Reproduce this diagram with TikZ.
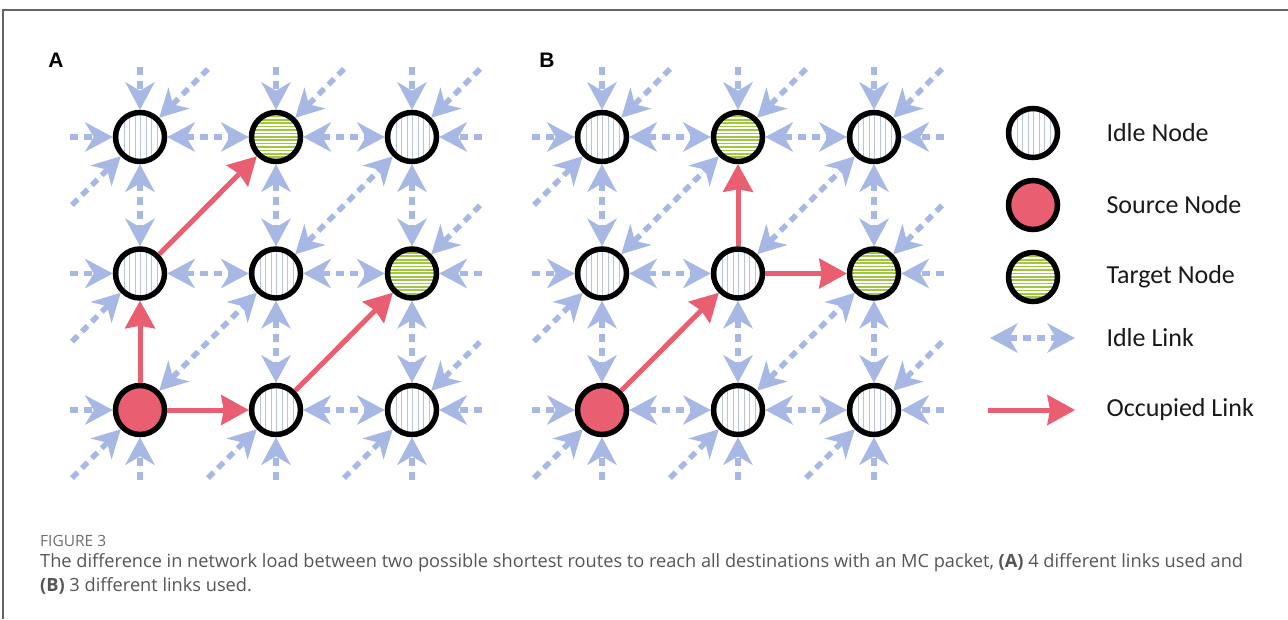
\documentclass[tikz,border=0pt]{standalone}
\usepackage{fontspec}
\setmainfont{Carlito}
\newfontfamily\capfont{Open Sans}
\newfontfamily\lblfont{Liberation Sans}
\usetikzlibrary{arrows.meta}
\definecolor{idleblue}{RGB}{168,184,228}
\definecolor{occred}{RGB}{233,94,112}
\definecolor{stripeblue}{RGB}{186,196,222}
\definecolor{stripegreen}{RGB}{160,200,60}
\definecolor{framegray}{RGB}{100,100,100}
\definecolor{capgray}{RGB}{85,85,85}
\tikzset{
  ib/.tip={Stealth[length=28pt,width=30pt,inset=9pt,line width=0pt]},
  rb/.tip={Stealth[length=28pt,width=31pt,inset=3pt,line width=0pt]},
  nd/.style={circle, draw=black, line width=5.5pt, minimum size=49pt, inner sep=0pt},
  idlenode/.style={nd, fill=white, path picture={
      \foreach \k in {-27,-21.5,...,27}
        \draw[stripeblue, line width=0.8pt] ([xshift=\k pt]path picture bounding box.north) -- ([xshift=\k pt]path picture bounding box.south);}},
  targetnode/.style={nd, fill=white, path picture={
      \foreach \k in {-27,-23.6,...,27}
        \draw[stripegreen, line width=1.7pt] ([yshift=\k pt]path picture bounding box.west) -- ([yshift=\k pt]path picture bounding box.east);}},
  sourcenode/.style={nd, fill=occred},
  idle/.style={draw=idleblue, fill=idleblue, line width=5.5pt, dash pattern=on 8pt off 6pt, arrows={ib-ib}},
  idlestub/.style={draw=idleblue, fill=idleblue, line width=5.5pt, dash pattern=on 8pt off 6pt, arrows={-ib}},
  occ/.style={draw=occred, fill=occred, line width=5pt, arrows={-rb}},
  legtext/.style={anchor=west, font=\fontsize{26}{30}\selectfont, text=black!90},
  panellbl/.style={anchor=center, font=\lblfont\bfseries\fontsize{21}{24}\selectfont},
}
\begin{document}
\begin{tikzpicture}[x=1pt,y=-1pt]
\useasboundingbox (0,0) rectangle (1288,619);
% frame
\draw[framegray, line width=1.5pt] (1288,10) coordinate (fr1) -- (3,10) coordinate (fr2) -- (3,619) coordinate (fr3);
% panel labels
\node[panellbl] (labA) at (56,60) {A};
\node[panellbl] (labB) at (547,60) {B};

% grids
\foreach \p/\ox in {a/140, b/602} {
  \foreach \c in {1,2,3} {
    \foreach \r in {1,2,3} {
      \coordinate (\p c\c\r) at ({\ox+136*(\c-1)}, {137+136.5*(\r-1)});
    }
  }
  \node[idlenode] (\p11) at (\p c11) {};
  \node[targetnode] (\p21) at (\p c21) {};
  \node[idlenode] (\p31) at (\p c31) {};
  \node[idlenode] (\p12) at (\p c12) {};
  \node[idlenode] (\p22) at (\p c22) {};
  \node[targetnode] (\p32) at (\p c32) {};
  \node[sourcenode] (\p13) at (\p c13) {};
  \node[idlenode] (\p23) at (\p c23) {};
  \node[idlenode] (\p33) at (\p c33) {};
  % stubs
  \foreach \c in {1,2,3} {
    \coordinate (\p up\c) at ([yshift=70pt]\p c\c1);
    \draw[idlestub] (\p up\c) -- (\p\c1);
    \coordinate (\p dn\c) at ([yshift=-70pt]\p c\c3);
    \draw[idlestub] (\p dn\c) -- (\p\c3);
    \coordinate (\p ne\c) at ([xshift=68pt,yshift=68pt]\p c\c1);
    \draw[idlestub] (\p ne\c) -- (\p\c1);
    \coordinate (\p sw\c) at ([xshift=-68pt,yshift=-68pt]\p c\c3);
    \draw[idlestub] (\p sw\c) -- (\p\c3);
  }
  \foreach \r in {1,2,3} {
    \coordinate (\p lf\r) at ([xshift=-70pt]\p c1\r);
    \draw[idlestub] (\p lf\r) -- (\p1\r);
    \coordinate (\p rt\r) at ([xshift=70pt]\p c3\r);
    \draw[idlestub] (\p rt\r) -- (\p3\r);
  }
  \foreach \r in {2,3} {
    \coordinate (\p nr\r) at ([xshift=68pt,yshift=68pt]\p c3\r);
    \draw[idlestub] (\p nr\r) -- (\p3\r);
  }
  \foreach \r in {1,2} {
    \coordinate (\p sl\r) at ([xshift=-68pt,yshift=-68pt]\p c1\r);
    \draw[idlestub] (\p sl\r) -- (\p1\r);
  }
}

% panel A idle links
\draw[idle] (a11) -- (a21);
\draw[idle] (a21) -- (a31);
\draw[idle] (a12) -- (a22);
\draw[idle] (a22) -- (a32);
\draw[idle] (a23) -- (a33);
\draw[idle] (a11) -- (a12);
\draw[idle] (a21) -- (a22);
\draw[idle] (a22) -- (a23);
\draw[idle] (a31) -- (a32);
\draw[idle] (a32) -- (a33);
\draw[idle] (a22) -- (a31);
\draw[idle] (a13) -- (a22);
% panel A occupied
\draw[occ] (a13) -- (a12);
\draw[occ] (a13) -- (a23);
\draw[occ] (a12) -- (a21);
\draw[occ] (a23) -- (a32);

% panel B idle links
\draw[idle] (b11) -- (b21);
\draw[idle] (b21) -- (b31);
\draw[idle] (b12) -- (b22);
\draw[idle] (b13) -- (b23);
\draw[idle] (b23) -- (b33);
\draw[idle] (b11) -- (b12);
\draw[idle] (b12) -- (b13);
\draw[idle] (b22) -- (b23);
\draw[idle] (b31) -- (b32);
\draw[idle] (b32) -- (b33);
\draw[idle] (b12) -- (b21);
\draw[idle] (b22) -- (b31);
\draw[idle] (b23) -- (b32);
% panel B occupied
\draw[occ] (b13) -- (b22);
\draw[occ] (b22) -- (b21);
\draw[occ] (b22) -- (b32);

% legend
\node[idlenode] (lgIdle) at (1033,133) {};
\node[sourcenode] (lgSrc) at (1033,205) {};
\node[targetnode] (lgTgt) at (1033,277) {};
\coordinate (li1) at (990,338);
\coordinate (li2) at (1075,338);
\draw[idle] (li1) -- (li2);
\coordinate (lo1) at (988,410);
\coordinate (lo2) at (1075,410);
\draw[occ] (lo1) -- (lo2);
\node[legtext] (tIdle) at (1103,133) {Idle Node};
\node[legtext] (tSrc) at (1103,205) {Source Node};
\node[legtext] (tTgt) at (1103,277) {Target Node};
\node[legtext] (tIL) at (1103,338) {Idle Link};
\node[legtext] (tOL) at (1103,410) {Occupied Link};

% caption
\node[anchor=west, inner sep=0pt, font=\capfont\fontsize{15.5}{18}\selectfont, text=capgray!85] (figlab) at (40,541) {FIGURE 3};
\node[anchor=west, inner sep=0pt, font=\capfont\fontsize{18.2}{21}\selectfont, text=capgray] (cap1) at (40,563) {The difference in network load between two possible shortest routes to reach all destinations with an MC packet, \textbf{(A)} 4 different links used and};
\node[anchor=west, inner sep=0pt, font=\capfont\fontsize{18.2}{21}\selectfont, text=capgray] (cap2) at (40,586) {\textbf{(B)} 3 different links used.};
\end{tikzpicture}
\end{document}
